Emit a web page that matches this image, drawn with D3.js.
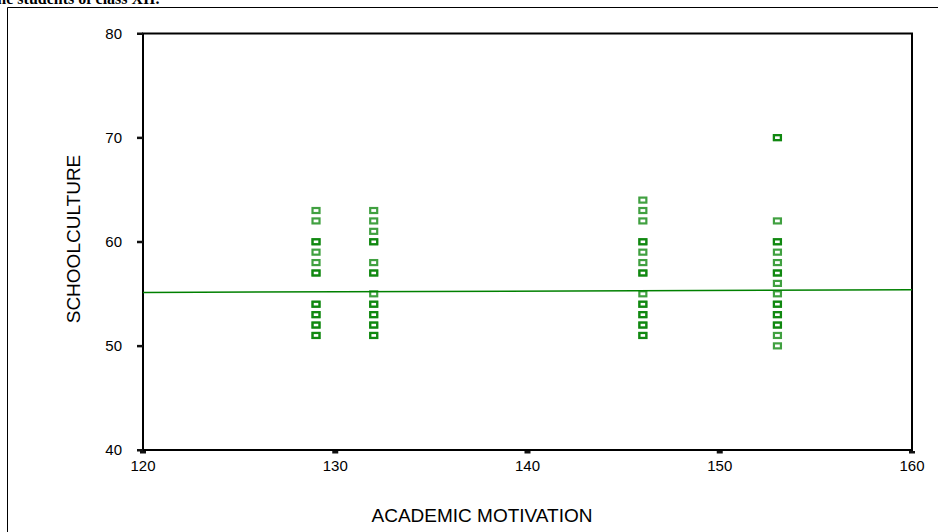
<!DOCTYPE html>
<html><head><meta charset="utf-8">
<script src="https://cdn.jsdelivr.net/npm/d3@7"></script>
<style>body{margin:0;background:#fff;overflow:hidden}svg{display:block}</style>
</head><body>
<svg id="c" width="938" height="532"></svg>
<script>
// Data: each entry is one observation; repeats produce the darker overlapping squares
const motivation = [129,129,129,129,129,129,129,129,129,129,129,129,129,129,129,129,
  132,132,132,132,132,132,132,132,132,132,132,132,132,132,132,132,132,
  146,146,146,146,146,146,146,146,146,146,146,146,146,146,146,146,146,146,
  153,153,153,153,153,153,153,153,153,153,153,153,153,153,153,153,153,153,153];
const culture = [63,62,60,60,59,58,57,57,54,54,53,53,52,52,51,51,
  63,62,61,60,60,58,57,57,55,54,54,53,53,52,52,51,51,
  64,63,62,60,60,59,58,57,57,55,54,54,53,53,52,52,51,51,
  70,70,62,60,60,59,58,57,57,56,55,54,54,53,53,52,52,51,50];
const fitX = [120, 160];
const fitY = [55.13, 55.38];
const xTicks = [120,130,140,150,160];
const yTicks = [40,50,60,70,80];
const xTitle = "ACADEMIC MOTIVATION";
const yTitle = "SCHOOLCULTURE";
const caption = "the students of class XII.";

const svg = d3.select("#c");
const x = d3.scaleLinear().domain([120,160]).range([143,912]);
const y = d3.scaleLinear().domain([40,80]).range([450,33.5]);

// caption (clipped by the top edge in the reference)
svg.append("text").attr("x",-8).attr("y",4)
  .attr("font-family","Liberation Serif, Times New Roman, serif")
  .attr("font-weight","bold").attr("font-size",16).text(caption);

// outer frame
svg.append("path").attr("d","M7.5,940V7.5H940").attr("fill","none").attr("stroke","#000").attr("stroke-width",1);

// plot frame
svg.append("rect").attr("x",x(120)).attr("y",y(80)).attr("width",x(160)-x(120)).attr("height",y(40)-y(80))
  .attr("fill","none").attr("stroke","#000").attr("stroke-width",2);

const font = "Liberation Sans, Arial, sans-serif";
// y ticks
const ya = svg.append("g");
yTicks.forEach(t=>{
  ya.append("rect").attr("x",x(120)-6).attr("y",y(t)-1).attr("width",6).attr("height",2.5).attr("fill","#111");
  ya.append("text").attr("x",122).attr("y",y(t)).attr("dy","0.35em").attr("text-anchor","end")
    .attr("font-family",font).attr("font-size",15).text(t);
});
// x ticks
const xa = svg.append("g");
xTicks.forEach(t=>{
  xa.append("rect").attr("x",x(t)-3).attr("y",y(40)+1).attr("width",6).attr("height",2.5).attr("fill","#111");
  xa.append("text").attr("x",x(t)).attr("y",471).attr("text-anchor","middle")
    .attr("font-family",font).attr("font-size",15).text(t);
});

// titles
svg.append("text").attr("x",482).attr("y",522).attr("text-anchor","middle")
  .attr("font-family",font).attr("font-size",19).text(xTitle);
svg.append("text").attr("transform","translate(80,239) rotate(-90)").attr("text-anchor","middle")
  .attr("font-family",font).attr("font-size",19).text(yTitle);

// fit line
svg.append("line").attr("x1",x(fitX[0])).attr("y1",y(fitY[0])).attr("x2",x(fitX[1])).attr("y2",y(fitY[1]))
  .attr("stroke","#008000").attr("stroke-width",1.5);

// points
svg.append("g").selectAll("rect").data(motivation.map((m,i)=>[m,culture[i]])).join("rect")
  .attr("x",d=>x(d[0])-3.5).attr("y",d=>y(d[1])-2.5).attr("width",7).attr("height",5)
  .attr("fill","none").attr("stroke","#008000").attr("stroke-width",2.2).attr("stroke-opacity",0.75);
</script>
</body></html>
